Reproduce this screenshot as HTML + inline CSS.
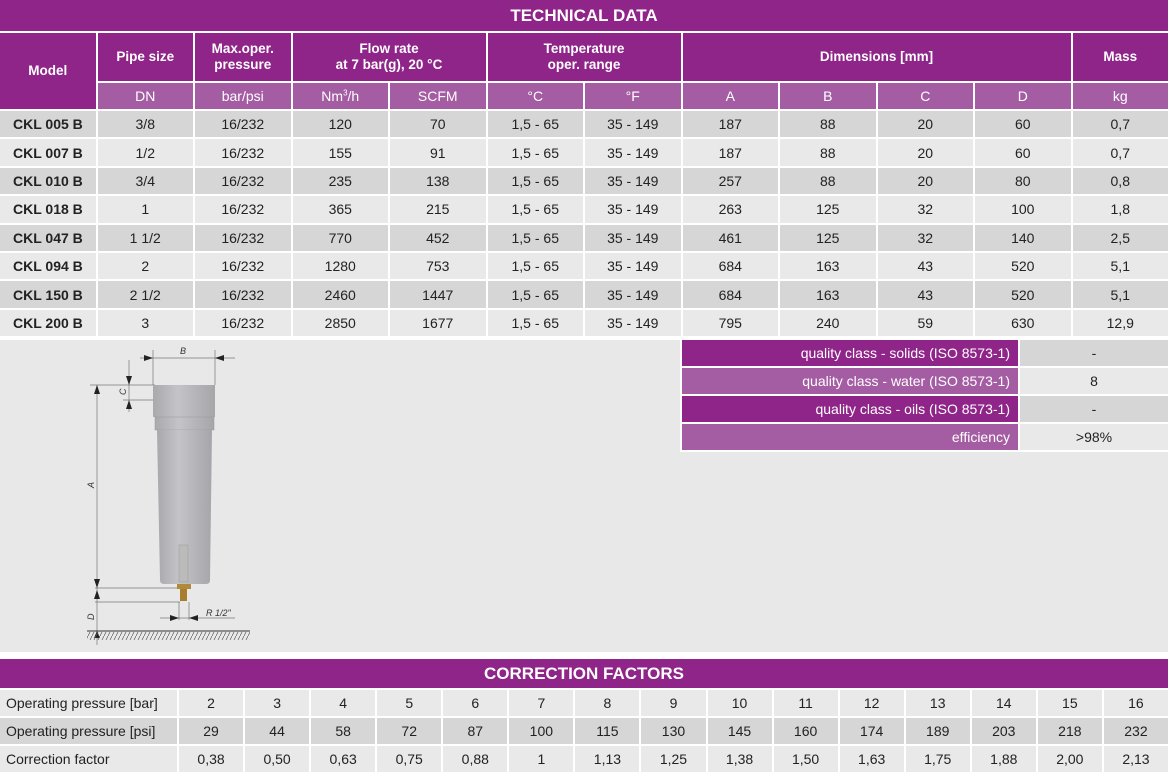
<!DOCTYPE html>
<html><head><meta charset="utf-8"><style>
body{margin:0;width:1170px;height:771px;background:#fff;position:relative;overflow:hidden;font-family:"Liberation Sans",sans-serif;}
.title{position:absolute;left:0;width:1168px;background:#8f2489;color:#fff;font-weight:bold;text-align:center;font-size:17px;}
table{position:absolute;border-collapse:separate;border-spacing:2px;table-layout:fixed;}
td{padding:0;text-align:center;font-size:14px;color:#222;overflow:hidden;white-space:nowrap;}
.h{background:#8f2489;color:#fff;font-weight:bold;font-size:13.5px;line-height:16px;}
.s{background:#a45ca3;color:#fff;font-size:14px;}
.d td{background:#d6d6d6;}
.l td{background:#e9e9e9;}
.m{font-weight:bold;text-align:left;padding-left:13px;}
.q td.k{text-align:right;padding-right:8px;color:#fff;}
</style></head><body>
<div class="title" style="top:0;height:31px;line-height:32px">TECHNICAL DATA</div>
<table style="top:31px;left:-2px;width:1172px">
<tr style="height:48px"><td class="h" rowspan="2">Model</td><td class="h">Pipe size</td><td class="h">Max.oper.<br>pressure</td><td class="h" colspan="2">Flow rate<br>at 7 bar(g), 20 °C</td><td class="h" colspan="2">Temperature<br>oper. range</td><td class="h" colspan="4">Dimensions [mm]</td><td class="h">Mass</td></tr>
<tr style="height:26px"><td class="s">DN</td><td class="s">bar/psi</td><td class="s">Nm<sup style="font-size:8px">3</sup>/h</td><td class="s">SCFM</td><td class="s">°C</td><td class="s">°F</td><td class="s">A</td><td class="s">B</td><td class="s">C</td><td class="s">D</td><td class="s">kg</td></tr>
<tr class="d" style="height:26.4px"><td class="m">CKL 005 B</td><td>3/8</td><td>16/232</td><td>120</td><td>70</td><td>1,5 - 65</td><td>35 - 149</td><td>187</td><td>88</td><td>20</td><td>60</td><td>0,7</td></tr>
<tr class="l" style="height:26.4px"><td class="m">CKL 007 B</td><td>1/2</td><td>16/232</td><td>155</td><td>91</td><td>1,5 - 65</td><td>35 - 149</td><td>187</td><td>88</td><td>20</td><td>60</td><td>0,7</td></tr>
<tr class="d" style="height:26.4px"><td class="m">CKL 010 B</td><td>3/4</td><td>16/232</td><td>235</td><td>138</td><td>1,5 - 65</td><td>35 - 149</td><td>257</td><td>88</td><td>20</td><td>80</td><td>0,8</td></tr>
<tr class="l" style="height:26.4px"><td class="m">CKL 018 B</td><td>1</td><td>16/232</td><td>365</td><td>215</td><td>1,5 - 65</td><td>35 - 149</td><td>263</td><td>125</td><td>32</td><td>100</td><td>1,8</td></tr>
<tr class="d" style="height:26.4px"><td class="m">CKL 047 B</td><td>1 1/2</td><td>16/232</td><td>770</td><td>452</td><td>1,5 - 65</td><td>35 - 149</td><td>461</td><td>125</td><td>32</td><td>140</td><td>2,5</td></tr>
<tr class="l" style="height:26.4px"><td class="m">CKL 094 B</td><td>2</td><td>16/232</td><td>1280</td><td>753</td><td>1,5 - 65</td><td>35 - 149</td><td>684</td><td>163</td><td>43</td><td>520</td><td>5,1</td></tr>
<tr class="d" style="height:26.4px"><td class="m">CKL 150 B</td><td>2 1/2</td><td>16/232</td><td>2460</td><td>1447</td><td>1,5 - 65</td><td>35 - 149</td><td>684</td><td>163</td><td>43</td><td>520</td><td>5,1</td></tr>
<tr class="l" style="height:26.4px"><td class="m">CKL 200 B</td><td>3</td><td>16/232</td><td>2850</td><td>1677</td><td>1,5 - 65</td><td>35 - 149</td><td>795</td><td>240</td><td>59</td><td>630</td><td>12,9</td></tr>
</table>
<div style="position:absolute;left:0;top:340px;width:1168px;height:312px;background:#e8e8e8"></div>
<table class="q" style="top:338px;left:680px;width:490px;background:#fff">
<col style="width:336px"><col>
<tr style="height:26px"><td class="k" style="background:#8f2489">quality class - solids (ISO 8573-1)</td><td style="background:#d6d6d6">-</td></tr>
<tr style="height:26px"><td class="k" style="background:#a45ca3">quality class - water (ISO 8573-1)</td><td style="background:#e9e9e9">8</td></tr>
<tr style="height:26px"><td class="k" style="background:#8f2489">quality class - oils (ISO 8573-1)</td><td style="background:#d6d6d6">-</td></tr>
<tr style="height:26px"><td class="k" style="background:#a45ca3">efficiency</td><td style="background:#e9e9e9">&gt;98%</td></tr>
</table>
<svg style="position:absolute;left:60px;top:340px" width="220" height="310" viewBox="0 0 220 310">
<defs><linearGradient id="g" x1="0" x2="1"><stop offset="0" stop-color="#a9a9ad"/><stop offset="0.4" stop-color="#c4c4c8"/><stop offset="1" stop-color="#a6a6aa"/></linearGradient>
<pattern id="h" width="4" height="8" patternUnits="userSpaceOnUse"><line x1="4" y1="0" x2="0" y2="8" stroke="#555" stroke-width="0.7"/></pattern></defs>
<g stroke="#777" stroke-width="0.7" fill="none">
<line x1="80" y1="18" x2="175" y2="18"/><line x1="93" y1="10" x2="93" y2="45"/><line x1="155" y1="10" x2="155" y2="45"/>
<line x1="30" y1="45" x2="95" y2="45"/><line x1="63" y1="60" x2="95" y2="60"/><line x1="69" y1="20" x2="69" y2="72"/>
<line x1="37" y1="45" x2="37" y2="305"/><line x1="35" y1="248" x2="120" y2="248"/><line x1="35" y1="262" x2="120" y2="262"/>
<line x1="119" y1="262" x2="119" y2="280"/><line x1="129" y1="262" x2="129" y2="280"/><line x1="100" y1="278" x2="175" y2="278"/>
</g>
<g fill="#222">
<polygon points="93,18 84,15 84,21"/><polygon points="155,18 164,15 164,21"/>
<polygon points="69,45 66,36 72,36"/><polygon points="69,60 66,69 72,69"/>
<polygon points="37,45 34,54 40,54"/><polygon points="37,248 34,239 40,239"/><polygon points="37,250 34,259 40,259"/><polygon points="37,291 34,298 40,298"/>
<polygon points="119,278 110,275 110,281"/><polygon points="129,278 138,275 138,281"/>
</g>
<g font-family="Liberation Sans" font-style="italic" font-size="9" fill="#333">
<text x="120" y="14">B</text><text x="66" y="55" transform="rotate(-90 66 55)">C</text><text x="34" y="148" transform="rotate(-90 34 148)">A</text><text x="34" y="280" transform="rotate(-90 34 280)">D</text><text x="146" y="276">R 1/2"</text>
</g>
<rect x="93" y="45" width="62" height="32" fill="url(#g)"/>
<rect x="95" y="77" width="59" height="13" fill="url(#g)" stroke="#999" stroke-width="0.5"/>
<path d="M97 90 H152 L150 240 Q150 244 146 244 H104 Q100 244 100 240 Z" fill="url(#g)"/>
<rect x="119" y="205" width="9" height="37" fill="#bbb" stroke="#999" stroke-width="0.5"/>
<rect x="117" y="244" width="14" height="5" fill="#b08a3a"/><rect x="120" y="249" width="7" height="12" fill="#a87d2e"/>
<line x1="27" y1="291" x2="190" y2="291" stroke="#333" stroke-width="1"/>
<rect x="27" y="292" width="163" height="8" fill="url(#h)"/>
</svg>
<div class="title" style="top:659px;height:29px;line-height:30px">CORRECTION FACTORS</div>
<table style="top:688px;left:-2px;width:1172px">
<col style="width:177px">
<tr class="l" style="height:26px"><td style="text-align:left;padding-left:6px">Operating pressure [bar]</td><td>2</td><td>3</td><td>4</td><td>5</td><td>6</td><td>7</td><td>8</td><td>9</td><td>10</td><td>11</td><td>12</td><td>13</td><td>14</td><td>15</td><td>16</td></tr>
<tr class="d" style="height:26px"><td style="text-align:left;padding-left:6px">Operating pressure [psi]</td><td>29</td><td>44</td><td>58</td><td>72</td><td>87</td><td>100</td><td>115</td><td>130</td><td>145</td><td>160</td><td>174</td><td>189</td><td>203</td><td>218</td><td>232</td></tr>
<tr class="l" style="height:26px"><td style="text-align:left;padding-left:6px">Correction factor</td><td>0,38</td><td>0,50</td><td>0,63</td><td>0,75</td><td>0,88</td><td>1</td><td>1,13</td><td>1,25</td><td>1,38</td><td>1,50</td><td>1,63</td><td>1,75</td><td>1,88</td><td>2,00</td><td>2,13</td></tr>
</table>
</body></html>
